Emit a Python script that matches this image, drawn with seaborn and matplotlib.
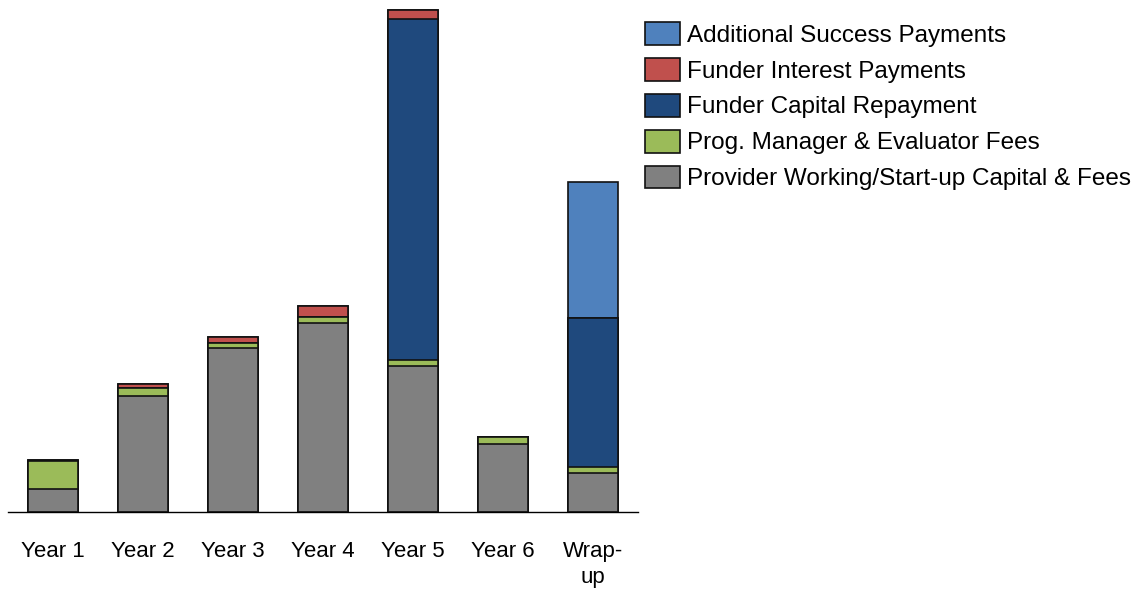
import matplotlib
matplotlib.use("Agg")
import matplotlib.pyplot as plt
import numpy as np
import pandas as pd
import seaborn as sns
from matplotlib.patches import Patch

# Payment flows per period (stacked from bottom to top)
periods = ["Year 1", "Year 2", "Year 3", "Year 4", "Year 5", "Year 6", "Wrap-\nup"]
provider_capital_fees = [23, 116, 164, 189, 146, 68, 39]
manager_evaluator_fees = [28, 8, 5, 6, 5.6, 6.6, 6.3]
funder_capital_repayment = [0, 0, 0, 0, 341.7, 0, 149]
funder_interest = [0.8, 4, 6.5, 11, 9, 0, 0]
additional_success = [0, 0, 0, 0, 0, 0, 135.4]

series_names = [
    "Provider Working/Start-up Capital & Fees",
    "Prog. Manager & Evaluator Fees",
    "Funder Capital Repayment",
    "Funder Interest Payments",
    "Additional Success Payments",
]
series_colors = ["#808080", "#9BBB59", "#1F497D", "#C0504D", "#4F81BD"]

sns.set_style("white")
plt.rcParams["font.family"] = ["Liberation Sans", "DejaVu Sans"]
plt.rcParams["text.color"] = "#000000"

layers = np.array([
    provider_capital_fees,
    manager_evaluator_fees,
    funder_capital_repayment,
    funder_interest,
    additional_success,
], dtype=float)
cumulative = np.cumsum(layers, axis=0)

W, H = 1143, 591
fig = plt.figure(figsize=(W / 100, H / 100), dpi=100)
ax = fig.add_axes([8 / W, (H - 512) / H, 630 / W, 512 / H])

# Draw cumulative totals from the top layer down so each segment shows
for i in range(len(series_names) - 1, -1, -1):
    df = pd.DataFrame({"period": periods, "value": cumulative[i]})
    sns.barplot(data=df, x="period", y="value", order=periods,
                color=series_colors[i], saturation=1, width=50 / 90,
                edgecolor="#111111", linewidth=1.2, ax=ax, zorder=2)

ax.set_xlim(-0.5, 6.5)
ax.set_ylim(0, 512)
ax.set_yticks([])
ax.set_xlabel("")
ax.set_ylabel("")
for side in ("left", "right", "top"):
    ax.spines[side].set_visible(False)
ax.spines["bottom"].set_color("#000000")
ax.spines["bottom"].set_linewidth(1.0)
ax.tick_params(axis="x", length=0, pad=21, labelsize=16, colors="#000000")
for lbl in ax.get_xticklabels():
    lbl.set_linespacing(1.3)

handles = [Patch(facecolor=c, edgecolor="#111111", linewidth=1.2, label=n)
           for c, n in zip(series_colors, series_names)]
handles = handles[::-1]
leg = fig.legend(handles=handles, loc="upper left",
                 bbox_to_anchor=(645 / W, 1 - 22 / H), frameon=False,
                 fontsize=17.5, borderpad=0, borderaxespad=0,
                 handlelength=1.44, handleheight=1.07, handletextpad=0.28,
                 labelspacing=0.46)
for t in leg.get_texts():
    t.set_color("#000000")

fig.savefig("out.png", dpi=100)
